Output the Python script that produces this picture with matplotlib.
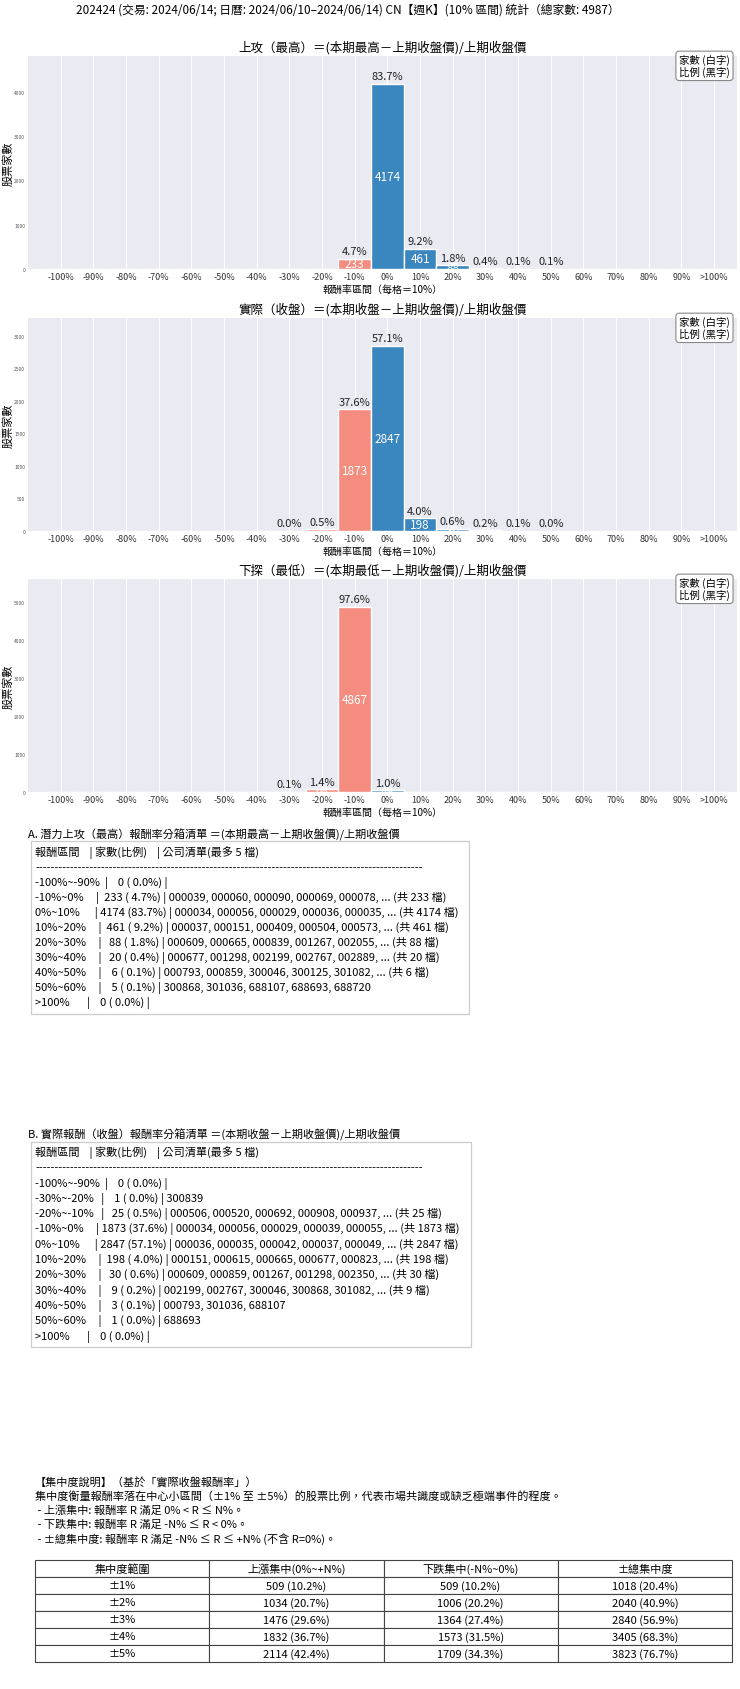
import numpy as np
import matplotlib
matplotlib.use("Agg")
import matplotlib.pyplot as plt

plt.rcParams['font.family'] = ['Noto Sans CJK TC', 'DejaVu Sans']

# --- datos ---
TOTAL = 4987
SUPTITLE = "202424 (交易: 2024/06/14; 日曆: 2024/06/10–2024/06/14) CN【週K】(10% 區間) 統計（總家數: 4987）"

BIN_LABELS = ['-100%', '-90%', '-80%', '-70%', '-60%', '-50%', '-40%', '-30%', '-20%', '-10%',
              '0%', '10%', '20%', '30%', '40%', '50%', '60%', '70%', '80%', '90%', '>100%']
RANGE_NAMES = ['-100%~-90%', '-90%~-80%', '-80%~-70%', '-70%~-60%', '-60%~-50%', '-50%~-40%',
               '-40%~-30%', '-30%~-20%', '-20%~-10%', '-10%~0%', '0%~10%', '10%~20%',
               '20%~30%', '30%~40%', '40%~50%', '50%~60%', '60%~70%', '70%~80%',
               '80%~90%', '90%~100%', '>100%']

HIGH_COUNTS = [0, 0, 0, 0, 0, 0, 0, 0, 0, 233, 4174, 461, 88, 20, 6, 5, 0, 0, 0, 0, 0]
CLOSE_COUNTS = [0, 0, 0, 0, 0, 0, 0, 1, 25, 1873, 2847, 198, 30, 9, 3, 1, 0, 0, 0, 0, 0]
LOW_COUNTS = [0, 0, 0, 0, 0, 0, 0, 3, 68, 4867, 49, 0, 0, 0, 0, 0, 0, 0, 0, 0, 0]

HIGH_TITLE = "上攻（最高）＝(本期最高－上期收盤價)/上期收盤價"
CLOSE_TITLE = "實際（收盤）＝(本期收盤－上期收盤價)/上期收盤價"
LOW_TITLE = "下探（最低）＝(本期最低－上期收盤價)/上期收盤價"

HIGH_CODES = {
    9: ['000039', '000060', '000090', '000069', '000078'],
    10: ['000034', '000056', '000029', '000036', '000035'],
    11: ['000037', '000151', '000409', '000504', '000573'],
    12: ['000609', '000665', '000839', '001267', '002055'],
    13: ['000677', '001298', '002199', '002767', '002889'],
    14: ['000793', '000859', '300046', '300125', '301082'],
    15: ['300868', '301036', '688107', '688693', '688720'],
}
CLOSE_CODES = {
    7: ['300839'],
    8: ['000506', '000520', '000692', '000908', '000937'],
    9: ['000034', '000056', '000029', '000039', '000055'],
    10: ['000036', '000035', '000042', '000037', '000049'],
    11: ['000151', '000615', '000665', '000677', '000823'],
    12: ['000609', '000859', '001267', '001298', '002350'],
    13: ['002199', '002767', '300046', '300868', '301082'],
    14: ['000793', '301036', '688107'],
    15: ['688693'],
}

CONC_RANGES = ['±1%', '±2%', '±3%', '±4%', '±5%']
CONC_UP = [509, 1034, 1476, 1832, 2114]
CONC_DOWN = [509, 1006, 1364, 1573, 1709]
CONC_HEADER = ['集中度範圍', '上漲集中(0%~+N%)', '下跌集中(-N%~0%)', '±總集中度']

CONC_LINES = ["【集中度說明】（基於「實際收盤報酬率」）",
              "集中度衡量報酬率落在中心小區間（±1% 至 ±5%）的股票比例，代表市場共識度或缺乏極端事件的程度。",
              " - 上漲集中: 報酬率 R 滿足 0% < R ≤ N%。",
              " - 下跌集中: 報酬率 R 滿足 -N% ≤ R < 0%。",
              " - ±總集中度: 報酬率 R 滿足 -N% ≤ R ≤ +N% (不含 R=0%)。"]

BLUE = "#3a86bf"
RED = "#f48c80"
W, H = 740, 1690


def caja(l, top, w, h):
    """Rectangulo en pixeles -> fracciones de figura."""
    return [l / W, 1 - (top + h) / H, w / W, h / H]


def dibuja_hist(fig, top, counts, titulo):
    ax = fig.add_axes(caja(28, top, 709, 213))
    ax.set_facecolor("#eaeaf2")
    for s in ax.spines.values():
        s.set_visible(False)
    x = np.arange(len(counts))
    colores = [RED if i < 10 else BLUE for i in x]
    ax.bar(x, counts, width=1.0, color=colores, edgecolor="white", linewidth=1, zorder=2)
    ymax = max(counts) * 1.15
    ax.set_ylim(0, ymax)
    ax.set_xlim(-1, 20.7)
    ax.set_xticks(x)
    ax.set_xticklabels(BIN_LABELS, fontsize=6.5, color="#333333")
    ax.tick_params(axis='y', labelsize=3.5, colors="#555555", length=0, pad=2)
    ax.tick_params(axis='x', length=0, pad=2)
    ax.grid(axis='x', color="white", lw=0.7, zorder=0)
    ax.set_axisbelow(True)
    ax.set_title(titulo, fontsize=9, pad=4)
    ax.set_xlabel("報酬率區間（每格＝10%）", fontsize=7.2, labelpad=2)
    ax.set_ylabel("股票家數", fontsize=8)
    # etiqueta del eje y pegada al borde izquierdo, como en la referencia
    ax.yaxis.set_label_coords(-14 / 709, 0.5)
    for i, c in zip(x, counts):
        if c <= 0:
            continue
        ax.text(i, c / 2, str(c), ha="center", va="center", color="white", fontsize=8.5, zorder=3)
        ax.text(i, c + ymax * 0.012, f"{c / TOTAL * 100:.1f}%", ha="center", va="bottom",
                fontsize=8, color="#222222", zorder=3)
    ax.text(0.99, 1.008, "家數 (白字)\n比例 (黑字)", transform=ax.transAxes, ha="right", va="top",
            fontsize=7.5, linespacing=1.1,
            bbox=dict(boxstyle="round,pad=0.3", fc="white", ec="#888888", lw=0.8))
    return ax


def lineas_lista(counts, codigos):
    filas = [f"{'報酬區間':<8}| {'家數(比例)':<10}| 公司清單(最多 5 檔)", "-" * 100]
    for i, c in enumerate(counts):
        if c == 0 and i not in (0, len(counts) - 1):
            continue
        txt = ", ".join(codigos.get(i, []))
        if c > 5:
            txt += f", ... (共 {c} 檔)"
        filas.append(f"{RANGE_NAMES[i]:<12}|{c:>5} ({c / TOTAL * 100:4.1f}%) | {txt}")
    return filas


def bloque(fig, lineas, x, y0, paso, fs=8):
    """Escribe cada linea en una posicion fija (pixeles)."""
    for k, t in enumerate(lineas):
        fig.text(x / W, 1 - (y0 + k * paso) / H, t, fontsize=fs, va="center", ha="left")


def marco(fig, l, top, r, bottom):
    fig.add_artist(plt.Rectangle((l / W, 1 - bottom / H), (r - l) / W, (bottom - top) / H,
                                 transform=fig.transFigure, fill=False, ec="#cccccc", lw=0.9))


fig = plt.figure(figsize=(W / 100, H / 100), dpi=100)
fig.text(0.47, 1 - 10 / H, SUPTITLE, ha="center", va="center", fontsize=8.5)

dibuja_hist(fig, 57, HIGH_COUNTS, HIGH_TITLE)
dibuja_hist(fig, 319, CLOSE_COUNTS, CLOSE_TITLE)
dibuja_hist(fig, 580, LOW_COUNTS, LOW_TITLE)

# --- listas por intervalo ---
fig.text(28 / W, 1 - 835 / H, "A. 潛力上攻（最高）報酬率分箱清單 ＝(本期最高－上期收盤價)/上期收盤價",
         fontsize=8, va="center")
marco(fig, 31, 842, 469, 1015)
bloque(fig, lineas_lista(HIGH_COUNTS, HIGH_CODES), 35, 853, 15.0)

fig.text(28 / W, 1 - 1135 / H, "B. 實際報酬（收盤）報酬率分箱清單 ＝(本期收盤－上期收盤價)/上期收盤價",
         fontsize=8, va="center")
marco(fig, 31, 1143, 471, 1348)
bloque(fig, lineas_lista(CLOSE_COUNTS, CLOSE_CODES), 35, 1153, 15.3)

# --- concentracion ---
bloque(fig, CONC_LINES, 35, 1483, 14.0)

tax = fig.add_axes(caja(35, 1561, 697, 102))
tax.axis("off")
filas = []
for r, u, d in zip(CONC_RANGES, CONC_UP, CONC_DOWN):
    t = u + d
    filas.append([r, f"{u} ({u / TOTAL * 100:.1f}%)", f"{d} ({d / TOTAL * 100:.1f}%)",
                  f"{t} ({t / TOTAL * 100:.1f}%)"])
tabla = tax.table(cellText=filas, colLabels=CONC_HEADER, cellLoc="center",
                  colWidths=[0.25] * 4, bbox=[0, 0, 1, 1])
tabla.auto_set_font_size(False)
tabla.set_fontsize(8)
for celda in tabla.get_celld().values():
    celda.set_edgecolor("#444444")
    celda.set_linewidth(0.8)

fig.savefig("out.png", dpi=100)
